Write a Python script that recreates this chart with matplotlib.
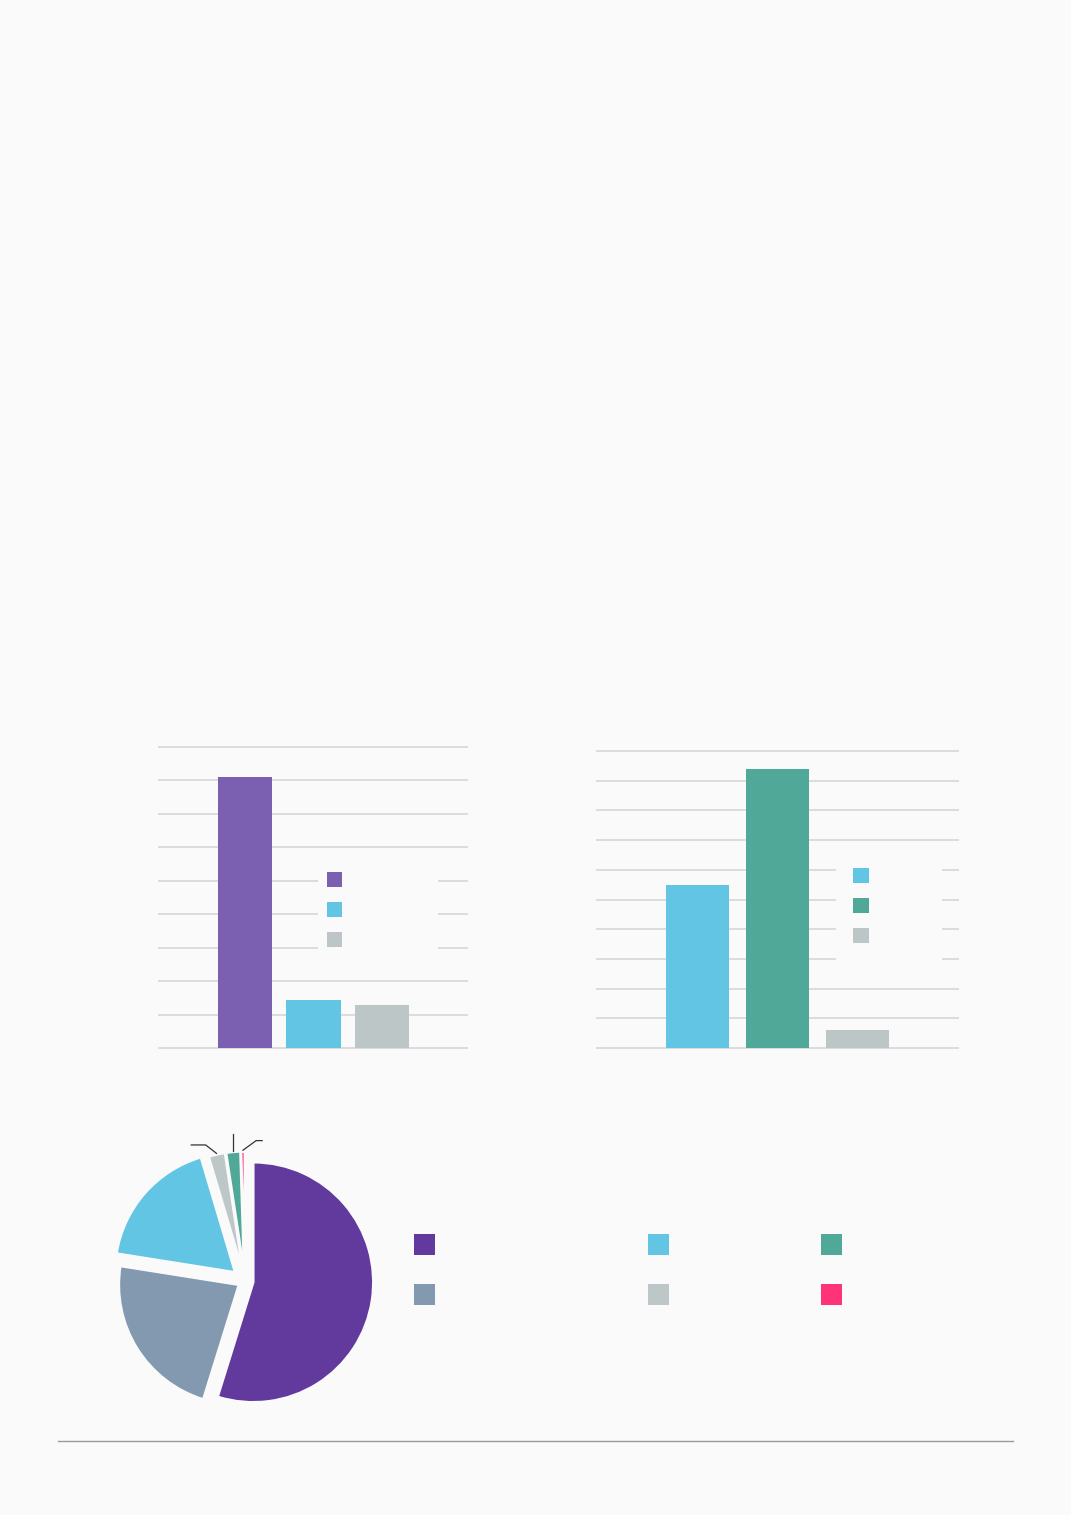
import numpy as np
import matplotlib.pyplot as plt
from matplotlib.lines import Line2D
from matplotlib.patches import Patch

# ---- data ----
bar1_values = [8.1, 1.44, 1.29]
bar1_colors = ["#7b5fb0", "#62c5e3", "#bcc6c6"]

bar2_values = [5.49, 9.39, 0.61]
bar2_colors = ["#62c5e3", "#50a898", "#bcc6c6"]

pie_values = [54.8, 22.7, 17.9, 2.2, 1.9, 0.5]
pie_colors = ["#62399d", "#8299b0", "#62c5e3", "#bdc7c7", "#4fa898", "#ff3378"]

BG = "#fafafa"
GRID = "#dcdcdc"
W, H = 1071, 1515


def px_axes(fig, left, top, width, height):
    # place an axes by pixel box (top-left origin)
    return fig.add_axes([left / W, 1 - (top + height) / H, width / W, height / H])


def bar_panel(ax, values, colors, nlines, width, xlim, ppu):
    x = np.arange(len(values))
    bars = ax.bar(x, values, width=width, color=colors, zorder=3)
    m = 2 / ppu
    ax.set_ylim(-m, nlines + m)
    ax.set_xlim(*xlim)
    ax.set_yticks(range(nlines + 1))
    ax.yaxis.grid(True, color=GRID, lw=1.4)
    ax.set_axisbelow(True)
    ax.set_xticks([])
    ax.tick_params(left=False, labelleft=False)
    for s in ax.spines.values():
        s.set_visible(False)
    ax.set_facecolor("none")
    return bars


fig = plt.figure(figsize=(W / 100, H / 100), dpi=100, facecolor=BG)

# left bar chart
ax1 = px_axes(fig, 158, 745, 310, 305)
b1 = bar_panel(ax1, bar1_values, bar1_colors, 9, 0.79, (-1.27, 3.255), 33.44)
ax1.legend(b1.patches, ["", "", ""], loc="upper left",
           bbox_to_anchor=(318 / W, 1 - 863 / H), bbox_transform=fig.transFigure,
           borderaxespad=0, prop={"size": 8}, handlelength=1.35, handleheight=1.70,
           labelspacing=1.35, borderpad=0.81, handletextpad=7.8,
           frameon=True, facecolor=BG, edgecolor="none", framealpha=1, fancybox=False)

# right bar chart
ax2 = px_axes(fig, 596, 749, 363, 301)
b2 = bar_panel(ax2, bar2_values, bar2_colors, 10, 0.785, (-1.265, 3.259), 29.7)
ax2.legend(b2.patches, ["", "", ""], loc="upper left",
           bbox_to_anchor=(836 / W, 1 - 851 / H), bbox_transform=fig.transFigure,
           borderaxespad=0, prop={"size": 8}, handlelength=1.44, handleheight=1.70,
           labelspacing=1.35, borderpad=1.55, handletextpad=5.0,
           frameon=True, facecolor=BG, edgecolor="none", framealpha=1, fancybox=False)

# pie chart
r_px = 120
cx, cy = 245, 1281
span = 1.3
ax3 = px_axes(fig, cx - span * r_px, cy - span * r_px, 2 * span * r_px, 2 * span * r_px)
wedges, _ = ax3.pie(pie_values, colors=pie_colors, startangle=90, counterclock=False,
                    explode=[0.07, 0.06, 0.11, 0.08, 0.08, 0.08],
                    wedgeprops=dict(edgecolor=BG, linewidth=1.8))
ax3.set_xlim(-span, span)
ax3.set_ylim(-span, span)
ax3.set_aspect("equal")
ax3.axis("off")

# label leader lines for the three thin slices
leader_offsets = {3: (-0.09, 0.07, -0.12), 4: (0.0, 0.14, 0.0), 5: (0.11, 0.08, 0.05)}
for i, (dx, dy, dx2) in leader_offsets.items():
    w = wedges[i]
    th = np.deg2rad((w.theta1 + w.theta2) / 2)
    x0 = w.center[0] + 1.01 * w.r * np.cos(th)
    y0 = w.center[1] + 1.01 * w.r * np.sin(th)
    xs = [x0, x0 + dx, x0 + dx + dx2]
    ys = [y0, y0 + dy, y0 + dy]
    ax3.plot(xs, ys, color="#333333", lw=0.9, clip_on=False)

# pie legend: three columns of two entries
order = [[0, 1], [2, 3], [4, 5]]
col_x = [414, 648, 821]
for cols, lx in zip(order, col_x):
    fig.legend([Patch(facecolor=pie_colors[k]) for k in cols], ["", ""], loc="upper left",
               bbox_to_anchor=(lx / W, 1 - 1234 / H), bbox_transform=fig.transFigure,
               borderaxespad=0, prop={"size": 10}, handlelength=1.51, handleheight=1.95,
               labelspacing=2.09, borderpad=0, handletextpad=0.5, frameon=False)

# bottom rule
fig.add_artist(Line2D([58 / W, 1013 / W], [1 - 1441 / H] * 2, color="#9a9a9a", lw=1))

fig.savefig("out.png", dpi=100, facecolor=BG)
